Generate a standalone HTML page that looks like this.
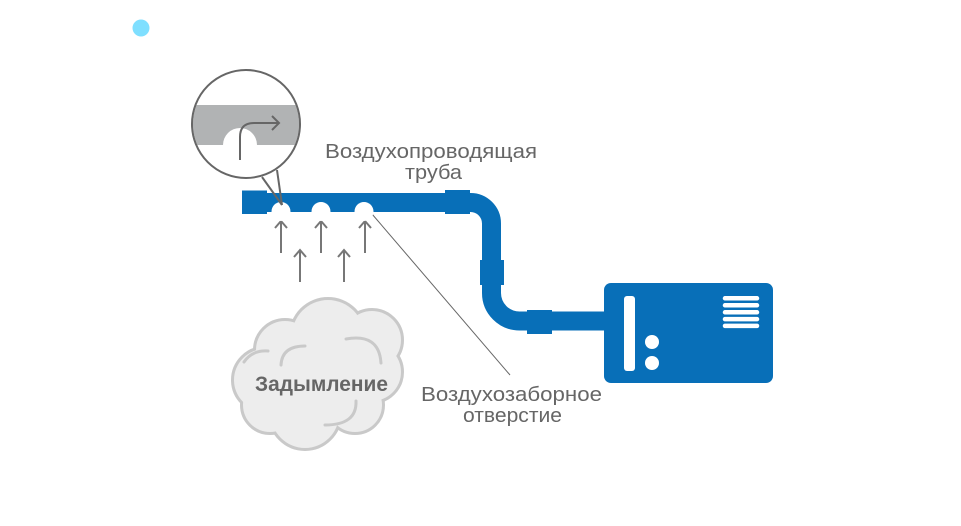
<!DOCTYPE html>
<html><head><meta charset="utf-8">
<style>
html,body{margin:0;padding:0;background:#fff;}
svg{display:block;}
text{font-family:"Liberation Sans","DejaVu Sans",sans-serif;}
</style></head>
<body>
<svg width="961" height="526" viewBox="0 0 961 526" xmlns="http://www.w3.org/2000/svg">
<rect width="961" height="526" fill="#fff"/>
<!-- cyan dot -->
<circle cx="141" cy="28" r="8.5" fill="#7fdfff"/>

<!-- cloud: stroke layer -->
<g fill="#c9c9c9" stroke="#c9c9c9" stroke-width="6">
<circle cx="328" cy="336" r="36"/>
<circle cx="372" cy="340" r="29"/>
<circle cx="372" cy="372" r="29"/>
<circle cx="355" cy="405" r="27"/>
<circle cx="305" cy="414" r="34"/>
<circle cx="270" cy="405" r="27"/>
<circle cx="265" cy="380" r="31"/>
<circle cx="285" cy="350" r="29"/>
</g>
<g fill="#ededed">
<circle cx="328" cy="336" r="36"/>
<circle cx="372" cy="340" r="29"/>
<circle cx="372" cy="372" r="29"/>
<circle cx="355" cy="405" r="27"/>
<circle cx="305" cy="414" r="34"/>
<circle cx="270" cy="405" r="27"/>
<circle cx="265" cy="380" r="31"/>
<circle cx="285" cy="350" r="29"/>
<circle cx="320" cy="380" r="45"/>
</g>
<g fill="none" stroke="#c9c9c9" stroke-width="3" stroke-linecap="round">
<path d="M281,365 Q282,346 305,346"/>
<path d="M346,339 Q379,333 381,363"/>
<path d="M356,401 Q357,425 325,425"/>
<path d="M244,362 Q252,350 268,351"/>
</g>
<text x="255" y="391" font-size="21" font-weight="bold" fill="#666" textLength="133" lengthAdjust="spacingAndGlyphs">Задымление</text>

<!-- arrows -->
<g fill="none" stroke="#777" stroke-width="2">
<path d="M281,253 V221 M275,228 L281,221 L287,228"/>
<path d="M321,253 V221 M315,228 L321,221 L327,228"/>
<path d="M365,253 V221 M359,228 L365,221 L371,228"/>
<path d="M300,282 V250 M294,257 L300,250 L306,257"/>
<path d="M344,282 V250 M338,257 L344,250 L350,257"/>
</g>

<!-- leader line -->
<line x1="372" y1="214" x2="510" y2="375" stroke="#666" stroke-width="1"/>

<!-- pipe -->
<path d="M262,202.5 H470.5 A21,21 0 0 1 491.5,223.5 V293 A28,28 0 0 0 519.5,321 H610" fill="none" stroke="#086fb8" stroke-width="19"/>
<rect x="242" y="190.5" width="25" height="23.5" fill="#086fb8"/>
<rect x="445" y="190" width="25" height="24" fill="#086fb8"/>
<rect x="480" y="260" width="24" height="25" fill="#086fb8"/>
<rect x="527" y="310" width="25" height="24" fill="#086fb8"/>
<!-- holes -->
<circle cx="281" cy="211.5" r="9.5" fill="#fff"/>
<circle cx="321" cy="211.5" r="9.5" fill="#fff"/>
<circle cx="364" cy="211.5" r="9.5" fill="#fff"/>

<!-- device box -->
<rect x="604" y="283" width="169" height="100" rx="7" fill="#086fb8"/>
<rect x="624" y="296" width="11" height="75" rx="3" fill="#fff"/>
<circle cx="652" cy="342" r="7" fill="#fff"/>
<circle cx="652" cy="363" r="7" fill="#fff"/>
<g stroke="#fff" stroke-width="4.5" stroke-linecap="round">
<line x1="725" y1="298.3" x2="757" y2="298.3"/>
<line x1="725" y1="305.3" x2="757" y2="305.3"/>
<line x1="725" y1="312.3" x2="757" y2="312.3"/>
<line x1="725" y1="319.1" x2="757" y2="319.1"/>
<line x1="725" y1="325.9" x2="757" y2="325.9"/>
</g>

<!-- magnifier -->
<defs><clipPath id="mc"><circle cx="246" cy="124" r="53"/></clipPath></defs>
<circle cx="246" cy="124" r="54" fill="#fff"/>
<g clip-path="url(#mc)">
<rect x="190" y="105" width="115" height="40" fill="#b1b3b4"/>
<circle cx="240" cy="145" r="17" fill="#fff"/>
</g>
<circle cx="246" cy="124" r="54" fill="none" stroke="#666" stroke-width="2"/>
<g fill="none" stroke="#666" stroke-width="2">
<path d="M240,160 V137 Q240,123 254,123 H279"/>
<path d="M272,116 L279,123 L272,130"/>
<line x1="262" y1="177" x2="282" y2="205"/>
<line x1="277" y1="170" x2="282" y2="205"/>
</g>

<!-- labels -->
<g fill="#666" font-size="20">
<text x="325" y="158" textLength="212" lengthAdjust="spacingAndGlyphs">Воздухопроводящая</text>
<text x="405" y="179" textLength="57" lengthAdjust="spacingAndGlyphs">труба</text>
<text x="421" y="401" textLength="181" lengthAdjust="spacingAndGlyphs">Воздухозаборное</text>
<text x="463" y="422" textLength="99" lengthAdjust="spacingAndGlyphs">отверстие</text>
</g>
</svg>
</body></html>
